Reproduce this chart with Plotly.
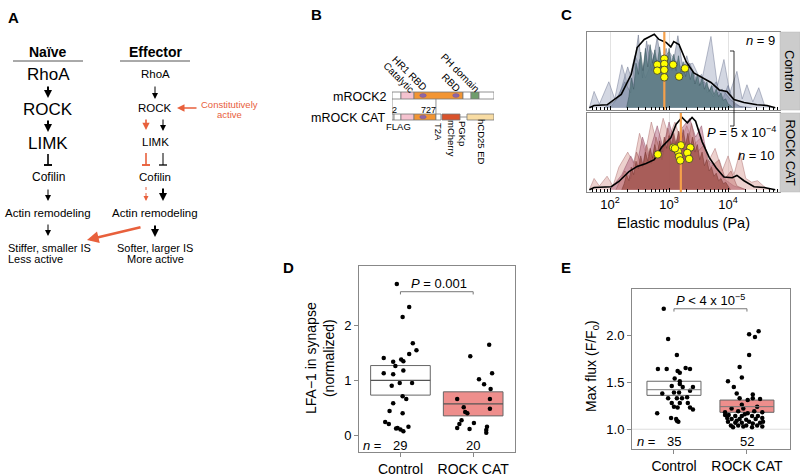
import plotly.graph_objects as go

FONT = "Liberation Sans, Arial, Helvetica, sans-serif"
RED = "#e8603c"

# ---------------- panel B: construct schematic (construct units 0-100) ----------------
rock2_start = [0, 8.8, 21.6, 69.6, 77.5, 85.3]
rock2_end = [8.8, 21.6, 69.6, 77.5, 85.3, 100]
rock2_kind = ["blank", "cat", "hr1", "blank", "ph", "blank"]
rock2_ovals = [30.4, 62.7]

cat_start = [0, 2, 8.8, 21.6, 43.1, 49.0, 73.5]
cat_end = [2, 8.8, 21.6, 43.1, 48.0, 66.7, 100]
cat_kind = ["blank", "blank", "cat", "hr1", "blank", "mcherry", "cd25"]
cat_ovals = [30.4]
cat_cut = [0, 43.1]

# ---------------- panel C: elastic modulus densities (x = log10 Pa) ----------------
ctrl_mean_x = [1.65, 1.73, 1.95, 2.19, 2.36, 2.46, 2.58, 2.69, 2.75, 2.83, 2.95, 3.03, 3.08, 3.17,
               3.29, 3.42, 3.54, 3.71, 3.85, 3.98, 4.10, 4.27, 4.49, 4.66, 4.80]
ctrl_mean_y = [0.0, 0.03, 0.04, 0.18, 0.45, 0.81, 0.92, 0.96, 0.99, 0.92, 0.88, 0.82, 0.89, 0.85,
               0.62, 0.47, 0.42, 0.34, 0.24, 0.22, 0.11, 0.07, 0.04, 0.03, 0.0]

ctrl_light_x = [1.65, 1.73, 1.82, 1.98, 2.08, 2.2, 2.3, 2.42, 2.55, 2.65, 2.8, 3.0, 3.2, 3.4, 3.55,
                3.71, 3.82, 3.93, 4.03, 4.15, 4.24, 4.32, 4.42, 4.52, 4.62, 4.75]
ctrl_light_y = [0, 0.22, 0.05, 0.35, 0.12, 0.58, 0.3, 0.7, 0.5, 0.85, 0.6, 0.75, 0.55, 0.6, 0.35,
                0.96, 0.3, 0.65, 0.2, 0.49, 0.12, 0.31, 0.08, 0.27, 0.03, 0]
ctrl_mid_x = [2.0, 2.15, 2.3, 2.4, 2.5, 2.6, 2.75, 2.9, 3.05, 3.2, 3.3, 3.42, 3.55, 3.65, 3.8, 3.9,
              4.0, 4.1, 4.25]
ctrl_mid_y = [0, 0.15, 0.55, 0.3, 0.65, 0.4, 0.7, 0.45, 0.6, 0.4, 0.7, 0.35, 0.45, 0.2, 0.35, 0.1,
              0.3, 0.05, 0]
ctrl_tall_x = [1.9, 2.1, 2.25, 2.35, 2.48, 2.55, 2.62, 2.7, 2.8, 2.88, 2.95, 3.05, 3.15, 3.25, 3.35,
               3.5, 3.6, 3.75, 3.9, 4.05, 4.2, 4.4]
ctrl_tall_y = [0, 0.1, 0.35, 0.2, 0.98, 0.4, 0.9, 0.5, 0.95, 0.55, 0.8, 0.5, 0.97, 0.45, 0.6, 0.3,
               0.35, 0.15, 0.25, 0.1, 0.02, 0]
ctrl_mass_x = [2.28, 2.32, 2.36, 2.40, 2.44, 2.48, 2.52, 2.56, 2.60, 2.64, 2.68, 2.72, 2.76, 2.80,
               2.84, 2.88, 2.92, 2.96, 3.00, 3.04, 3.08, 3.12, 3.16, 3.20, 3.24, 3.28, 3.32, 3.36,
               3.40, 3.44, 3.48, 3.52, 3.56, 3.60, 3.64, 3.68, 3.72, 3.76, 3.80, 3.84, 3.88, 3.92,
               3.96, 4.00, 4.04, 4.08]
ctrl_mass_y = [0, 0.15, 0.4, 0.25, 0.6, 0.45, 0.75, 0.5, 0.8, 0.55, 0.85, 0.6, 0.78, 0.58, 0.82,
               0.6, 0.75, 0.55, 0.8, 0.6, 0.72, 0.5, 0.7, 0.48, 0.62, 0.42, 0.55, 0.38, 0.5, 0.32,
               0.45, 0.3, 0.4, 0.25, 0.35, 0.22, 0.3, 0.18, 0.25, 0.15, 0.2, 0.1, 0.12, 0.05, 0.03, 0]

cat_mean_x = [1.65, 1.73, 2.02, 2.15, 2.32, 2.46, 2.61, 2.75, 2.88, 3.03, 3.12, 3.22, 3.31, 3.39,
              3.45, 3.56, 3.68, 3.80, 3.93, 4.07, 4.15, 4.27, 4.44, 4.61, 4.80]
cat_mean_y = [0, 0.03, 0.04, 0.11, 0.24, 0.31, 0.35, 0.40, 0.57, 0.69, 0.87, 0.96, 0.89, 0.96,
              0.91, 0.64, 0.43, 0.29, 0.17, 0.16, 0.19, 0.12, 0.04, 0.03, 0]

cat_light_x = [1.65, 1.73, 1.82, 1.95, 2.05, 2.15, 2.3, 2.4, 2.5, 2.6, 2.7, 2.8, 2.9, 3.0, 3.1,
               3.2, 3.3, 3.42, 3.55, 3.65, 3.78, 3.9, 4.0, 4.1, 4.2, 4.3, 4.4, 4.5, 4.6, 4.7]
cat_light_y = [0, 0.15, 0.05, 0.18, 0.05, 0.3, 0.5, 0.35, 0.75, 0.5, 0.9, 0.6, 0.95, 0.7, 0.9,
               0.65, 0.85, 0.6, 0.7, 0.35, 0.55, 0.25, 0.45, 0.2, 0.5, 0.15, 0.1, 0.12, 0.05, 0]
cat_mauve_x = [2.0, 2.2, 2.35, 2.45, 2.55, 2.65, 2.8, 2.9, 3.0, 3.1, 3.2, 3.35, 3.45, 3.55, 3.65,
               3.8, 3.92, 4.1, 4.3]
cat_mauve_y = [0, 0.2, 0.45, 0.3, 0.7, 0.45, 0.85, 0.55, 0.9, 0.6, 0.8, 0.95, 0.7, 0.85, 0.4, 0.3,
               0.15, 0.05, 0]
cat_mid_x = [2.1, 2.25, 2.35, 2.45, 2.55, 2.62, 2.7, 2.78, 2.88, 2.98, 3.08, 3.18, 3.28, 3.38,
             3.48, 3.6, 3.7, 3.85, 3.95, 4.05, 4.15, 4.3]
cat_mid_y = [0, 0.25, 0.15, 0.5, 0.3, 0.6, 0.35, 0.7, 0.4, 0.82, 0.5, 0.7, 0.45, 0.88, 0.5, 0.6,
             0.3, 0.4, 0.15, 0.25, 0.05, 0]
cat_mass_x = [2.20, 2.24, 2.28, 2.32, 2.36, 2.40, 2.44, 2.48, 2.52, 2.56, 2.60, 2.64, 2.68, 2.72,
              2.76, 2.80, 2.84, 2.88, 2.92, 2.96, 3.00, 3.04, 3.08, 3.12, 3.16, 3.20, 3.24, 3.28,
              3.32, 3.36, 3.40, 3.44, 3.48, 3.52, 3.56, 3.60, 3.64, 3.68, 3.72, 3.76, 3.80, 3.84,
              3.88, 3.92, 3.96, 4.00, 4.04]
cat_mass_y = [0, 0.08, 0.2, 0.12, 0.3, 0.2, 0.38, 0.28, 0.45, 0.32, 0.5, 0.38, 0.55, 0.42, 0.6,
              0.45, 0.65, 0.5, 0.7, 0.55, 0.72, 0.58, 0.75, 0.6, 0.78, 0.62, 0.8, 0.6, 0.75, 0.55,
              0.7, 0.5, 0.6, 0.4, 0.5, 0.32, 0.4, 0.25, 0.3, 0.18, 0.22, 0.12, 0.15, 0.08, 0.1,
              0.04, 0]

ctrl_cell_x = [2.80, 2.92, 2.92, 3.07, 2.80, 2.92, 3.27, 2.92, 3.17]
ctrl_cell_y = [0.58, 0.66, 0.59, 0.58, 0.50, 0.51, 0.53, 0.41, 0.42]
cat_cell_x = [2.81, 3.07, 3.20, 3.15, 3.36, 3.31, 3.17, 3.34, 3.19, 3.10]
cat_cell_y = [0.47, 0.56, 0.59, 0.51, 0.56, 0.49, 0.44, 0.41, 0.39, 0.55]
median_log = [2.92, 3.20]

# ---------------- panel D: LFA-1 in synapse ----------------
d_ctrl_x = [-0.05, 0.12, 0.03, 0.17, 0.22, 0.12, -0.23, -0.10, 0.01, 0.04, -0.07, -0.23, -0.10,
            0.04, -0.01, -0.12, 0.16, 0.03, 0.08, -0.10, -0.15, 0.03, -0.21, -0.16, 0.11, -0.04,
            0.00, 0.04, -0.06]
d_ctrl_y = [2.76, 2.34, 2.16, 1.68, 1.55, 1.48, 1.41, 1.34, 1.38, 1.35, 1.26, 1.13, 1.11, 1.18,
            0.95, 0.90, 0.95, 0.71, 0.66, 0.58, 0.44, 0.40, 0.24, 0.20, 0.15, 0.13, 0.10, 0.07, 0.12]
d_cat_x = [1.22, 0.96, 1.26, 1.08, 1.15, 1.24, 0.78, 1.23, 0.87, 0.89, 0.92, 1.23, 0.84, 1.01,
           0.81, 0.78, 0.95, 1.19, 1.18, 1.18]
d_cat_y = [1.65, 1.44, 1.13, 1.02, 0.93, 0.84, 0.66, 0.66, 0.51, 0.42, 0.40, 0.48, 0.27, 0.22,
           0.20, 0.13, 0.11, 0.15, 0.09, 0.04]
d_q1 = [0.73, 0.35]
d_med = [1.00, 0.57]
d_q3 = [1.27, 0.79]
d_n = [29, 20]

# ---------------- panel E: max flux ----------------
e_ctrl_x = [-0.14, -0.08, 0.04, -0.22, -0.10, 0.05, 0.08, 0.16, 0.22, 0.01, 0.08, 0.08, -0.03,
            0.26, 0.22, -0.16, 0.00, 0.07, -0.08, 0.04, 0.11, 0.18, -0.03, 0.08, 0.19, 0.00, 0.05,
            0.22, 0.26, -0.23, -0.04, 0.03, 0.06, 0.04, 0.12]
e_ctrl_y = [2.28, 1.96, 1.79, 1.64, 1.64, 1.62, 1.60, 1.65, 1.64, 1.54, 1.51, 1.48, 1.46, 1.45,
            1.41, 1.38, 1.39, 1.39, 1.33, 1.33, 1.33, 1.34, 1.28, 1.28, 1.28, 1.24, 1.23, 1.23,
            1.21, 1.17, 1.12, 1.11, 1.08, 1.09, 1.45]
e_cat_x = [1.03, 1.11, 1.16, 1.03, 0.90, 0.93, 0.74, 0.82, 0.86,
           1.08, 0.90, 1.01, 1.08, 1.18, 0.93, 0.79, 0.95, 1.14, 0.70, 0.88, 1.01, 1.21, 0.75,
           0.84, 0.93, 1.07, 1.15, 0.73, 0.79, 0.90, 0.99, 1.12, 1.21, 0.74, 0.84, 0.93, 1.03,
           1.08, 1.18, 0.78, 0.88, 0.99, 1.14, 1.21, 0.81, 0.95, 1.07, 0.70, 0.97, 1.10, 1.22,
           0.86]
e_cat_y = [2.01, 1.98, 2.04, 1.79, 1.66, 1.55, 1.51, 1.45, 1.38,
           1.37, 1.33, 1.31, 1.33, 1.32, 1.26, 1.22, 1.22, 1.24, 1.18, 1.19, 1.17, 1.18, 1.15,
           1.14, 1.14, 1.14, 1.14, 1.12, 1.11, 1.11, 1.10, 1.11, 1.12, 1.08, 1.07, 1.07, 1.08,
           1.06, 1.07, 1.04, 1.04, 1.04, 1.04, 1.03, 1.02, 1.03, 1.02, 1.15, 1.16, 1.19, 1.08,
           1.09]
e_q1 = [1.36, 1.18]
e_med = [1.42, 1.24]
e_q3 = [1.51, 1.31]
e_n = [35, 52]

groups = ["Control", "ROCK CAT"]

fig = go.Figure()
shapes = []
notes = []


def text(x, y, s, size=11, color="black", xanchor="center", angle=0, yanchor="middle"):
    notes.append(dict(x=x, y=y, xref="x", yref="y", text=s, showarrow=False, xanchor=xanchor,
                      yanchor=yanchor, textangle=angle,
                      font=dict(family=FONT, size=size, color=color)))


def arrow(x0, y0, x1, y1, color="black", width=1.0, size=1.0):
    notes.append(dict(x=x1, y=y1, ax=x0, ay=y0, xref="x", yref="y", axref="x", ayref="y",
                      text="", showarrow=True, arrowhead=2, arrowwidth=width, arrowsize=size,
                      arrowcolor=color, standoff=0))


def line(x0, y0, x1, y1, color="black", width=1.0, dash="solid", xref="x", yref="y"):
    shapes.append(dict(type="line", x0=x0, y0=y0, x1=x1, y1=y1, xref=xref, yref=yref,
                       line=dict(color=color, width=width, dash=dash)))


def inhibit(x, y0, y1, color="black", width=1.0):
    line(x, y0, x, y1, color, width)
    line(x - 4, y1, x + 4, y1, color, width + 0.3)


# canvas subplot (pixel coordinates) and schematic subplot
fig.add_trace(go.Scatter(x=[], y=[], xaxis="x", yaxis="y", showlegend=False))
fig.add_trace(go.Scatter(x=[], y=[], xaxis="x2", yaxis="y2", showlegend=False))

# ---------- panel letters ----------
for lab, lx, ly in [("A", 13, 17), ("B", 316, 14), ("C", 566, 14), ("D", 288, 267), ("E", 566, 267)]:
    text(lx, ly, f"<b>{lab}</b>", size=15)

# ---------- panel A ----------
text(48, 52, "<b>Naïve</b>", size=14)
text(155, 52, "<b>Effector</b>", size=14)
line(13, 61, 83, 61, "#555", 1)
line(120, 61, 190, 61, "#555", 1)

text(48, 74, "RhoA", size=17)
arrow(48, 85, 48, 98, width=2, size=0.8)
text(48, 109, "ROCK", size=17)
arrow(48, 119, 48, 132, width=2, size=0.8)
text(48, 143, "LIMK", size=17)
inhibit(48, 154, 165, width=1.6)
text(48, 177, "Cofilin", size=12)
arrow(48, 188, 48, 201, width=1, size=1.2)
text(48, 213, "Actin remodeling", size=11.5)
arrow(48, 223, 48, 236, width=1, size=1.2)
text(6, 248, "Stiffer, smaller IS", size=11, xanchor="left")
text(6, 259, "Less active", size=11, xanchor="left")

text(155, 74, "RhoA", size=11.5)
arrow(155, 85, 155, 99, width=1, size=1.2)
text(155, 108, "ROCK", size=11.5)
arrow(198, 108, 177, 108, color=RED, width=1.5, size=1.0)
text(229, 104, "Constitutively", size=9.5, color=RED)
text(229, 114, "active", size=9.5, color=RED)
arrow(146, 118, 146, 130, color=RED, width=1.6, size=0.9)
arrow(163, 118, 163, 131, width=1, size=1.2)
text(155, 142, "LIMK", size=11.5)
inhibit(146, 153, 165, RED, 1.6)
inhibit(163, 153, 165, "black", 1.0)
text(155, 177, "Cofilin", size=11.5)
line(146, 187, 146, 197, RED, 1, "dot")
arrow(146, 196, 146, 201, color=RED, width=1, size=1.0)
arrow(163, 187, 163, 201, width=2, size=0.8)
text(155, 213, "Actin remodeling", size=11.5)
arrow(155, 224, 155, 237, width=2, size=0.8)
arrow(142, 227, 87, 240, color=RED, width=2.6, size=0.9)
text(155, 248, "Softer, larger IS", size=11)
text(155, 259, "More active", size=11)

# ---------- panel B ----------
part_color = {"blank": "white", "cat": "#f5c2cf", "hr1": "#f29533", "ph": "#6f9d6c",
              "mcherry": "#d9522b", "cd25": "#f8dca3"}
for s, e, k in zip(rock2_start, rock2_end, rock2_kind):
    shapes.append(dict(type="rect", xref="x2", yref="y2", x0=s, x1=e, y0=92, y1=99,
                       fillcolor=part_color[k], line=dict(color="#777", width=0.8)))
for s, e, k in zip(cat_start, cat_end, cat_kind):
    shapes.append(dict(type="rect", xref="x2", yref="y2", x0=s, x1=e, y0=114, y1=120,
                       fillcolor=part_color[k], line=dict(color="#777", width=0.8)))
line(cat_end[5], 117, cat_start[6], 117, "#777", 0.8, xref="x2", yref="y2")
for c in rock2_ovals:
    shapes.append(dict(type="circle", xref="x2", yref="y2", x0=c - 3.2, x1=c + 3.2, y0=93.6,
                       y1=97.4, fillcolor="#8e66a6", line=dict(color="#7a5a95", width=0.5)))
for c in cat_ovals:
    shapes.append(dict(type="circle", xref="x2", yref="y2", x0=c - 3.2, x1=c + 3.2, y0=115.2,
                       y1=118.8, fillcolor="#8e66a6", line=dict(color="#7a5a95", width=0.5)))
for c in cat_cut:
    line(c, 99, c, 114, "#777", 0.8, xref="x2", yref="y2")

text(389, 97, "mROCK2", size=12.5, xanchor="right")
text(387, 118, "mROCK CAT", size=12.5, xanchor="right")
text(394, 110, "2", size=9)
text(428, 110, "727", size=9)
text(398, 126, "FLAG", size=9.5)
text(439, 132, "T2A", size=9.5, angle=90)
text(452, 138, "mCherry", size=9.5, angle=90)
text(463, 133, "PGKp", size=9.5, angle=90)
text(482, 142, "hCD25 ED", size=9.5, angle=90)
text(399, 77, "Catalytic", size=10, angle=45)
text(410, 73, "HR1 RBD", size=10, angle=45)
text(451, 82, "RBD", size=10, angle=45)
text(460, 72, "PH domain", size=10, angle=45)

# ---------- panel C ----------
def dens(xs, ys, fill, edge, xa, ya):
    fig.add_trace(go.Scatter(x=[10 ** v for v in xs], y=ys, mode="lines", fill="tozeroy",
                             fillcolor=fill, line=dict(color=edge, width=0.6),
                             xaxis=xa, yaxis=ya, showlegend=False, hoverinfo="skip"))


dens(ctrl_light_x, ctrl_light_y, "rgba(175,182,202,0.55)", "rgba(110,118,145,0.8)", "x3", "y3")
dens(ctrl_mid_x, ctrl_mid_y, "rgba(140,150,176,0.5)", "rgba(100,110,135,0.8)", "x3", "y3")
dens(ctrl_tall_x, ctrl_tall_y, "rgba(125,140,165,0.5)", "rgba(90,100,125,0.8)", "x3", "y3")
dens(ctrl_mass_x, ctrl_mass_y, "rgba(82,116,122,0.75)", "rgba(60,88,95,0.9)", "x3", "y3")
dens(cat_light_x, cat_light_y, "rgba(222,172,165,0.55)", "rgba(170,110,110,0.8)", "x4", "y4")
dens(cat_mauve_x, cat_mauve_y, "rgba(178,100,125,0.5)", "rgba(140,70,95,0.8)", "x4", "y4")
dens(cat_mid_x, cat_mid_y, "rgba(200,130,125,0.55)", "rgba(150,85,85,0.8)", "x4", "y4")
dens(cat_mass_x, cat_mass_y, "rgba(152,72,66,0.7)", "rgba(120,55,50,0.9)", "x4", "y4")

for mx, my, xa, ya in [(ctrl_mean_x, ctrl_mean_y, "x3", "y3"), (cat_mean_x, cat_mean_y, "x4", "y4")]:
    fig.add_trace(go.Scatter(x=[10 ** v for v in mx], y=my, mode="lines",
                             line=dict(color="black", width=1.6), xaxis=xa, yaxis=ya,
                             showlegend=False, hoverinfo="skip"))
for m, xa, ya in zip(median_log, ["x3", "x4"], ["y3", "y4"]):
    fig.add_trace(go.Scatter(x=[10 ** m, 10 ** m], y=[-0.03, 1.02], mode="lines",
                             line=dict(color="#f5a04a", width=2.2), xaxis=xa, yaxis=ya,
                             showlegend=False, hoverinfo="skip"))
for cx, cy, xa, ya in [(ctrl_cell_x, ctrl_cell_y, "x3", "y3"), (cat_cell_x, cat_cell_y, "x4", "y4")]:
    fig.add_trace(go.Scatter(x=[10 ** v for v in cx], y=cy, mode="markers",
                             marker=dict(color="#ffff00", size=7.5, line=dict(color="#333", width=0.8)),
                             xaxis=xa, yaxis=ya, showlegend=False, hoverinfo="skip"))

for y0, y1, lab in [(32, 110, "Control"), (113, 192, "ROCK CAT")]:
    shapes.append(dict(type="rect", xref="x", yref="y", x0=780, x1=800, y0=y0, y1=y1,
                       fillcolor="#cccccc", line=dict(color="#bbbbbb", width=0.5)))
    text(790, (y0 + y1) / 2, lab, size=13, angle=90)

line(730, 51, 734, 51, "black", 0.8)
line(734, 51, 734, 126, "black", 0.8)
line(730, 126, 734, 126, "black", 0.8)
text(777, 40, "<i>n</i> = 9", size=13, xanchor="right")
text(778, 132, "<i>P</i> = 5 x 10<sup>−4</sup>", size=13, xanchor="right")
text(777, 155, "<i>n</i> = 10", size=13, xanchor="right")
text(683, 223, "Elastic modulus (Pa)", size=14.5)

# ---------- panels D and E ----------
for xs, ys, xa, ya in [(d_ctrl_x + d_cat_x, d_ctrl_y + d_cat_y, "x5", "y5"),
                       (e_ctrl_x + e_cat_x, e_ctrl_y + e_cat_y, "x6", "y6")]:
    fig.add_trace(go.Scatter(x=xs, y=ys, mode="markers", marker=dict(color="black", size=4.5),
                             xaxis=xa, yaxis=ya, showlegend=False, hoverinfo="skip"))

box_fill = ["white", "#ee8e8c"]
for i in range(2):
    shapes.append(dict(type="rect", xref="x5", yref="y5", x0=i - 0.41, x1=i + 0.41, y0=d_q1[i],
                       y1=d_q3[i], fillcolor=box_fill[i], line=dict(color="#666", width=1),
                       layer="below"))
    line(i - 0.41, d_med[i], i + 0.41, d_med[i], "#555", 1.2, xref="x5", yref="y5")
    shapes.append(dict(type="rect", xref="x6", yref="y6", x0=i - 0.37, x1=i + 0.37, y0=e_q1[i],
                       y1=e_q3[i], fillcolor=box_fill[i], line=dict(color="#666", width=1),
                       layer="below"))
    line(i - 0.37, e_med[i], i + 0.37, e_med[i], "#777", 1, xref="x6", yref="y6")

shapes.append(dict(type="line", xref="x6", yref="y6", x0=-0.575, x1=1.59, y0=1.0, y1=1.0,
                   line=dict(color="#dddddd", width=1), layer="below"))

for xa, ya, yb, tick in [("x5", "y5", 2.62, 0.05), ("x6", "y6", 2.28, 0.03)]:
    line(0, yb - tick, 0, yb, "#777", 1, xref=xa, yref=ya)
    line(0, yb, 1, yb, "#777", 1, xref=xa, yref=ya)
    line(1, yb - tick, 1, yb, "#777", 1, xref=xa, yref=ya)
text(439, 283, "<i>P</i> = 0.001", size=13)
text(710, 300, "<i>P</i> &lt; 4 x 10<sup>−5</sup>", size=13)

text(372, 445, "<i>n</i> =", size=13)
text(400, 445, str(d_n[0]), size=13)
text(473, 445, str(d_n[1]), size=13)
text(646, 441, "<i>n</i> =", size=13)
text(674, 441, str(e_n[0]), size=13)
text(747, 441, str(e_n[1]), size=13)
text(320, 358, "LFA−1 in synapse<br>(normalized)", size=14, angle=-90)
text(592, 366, "Max flux (F/F<sub>0</sub>)", size=14, angle=-90)


def px(v):
    return v / 800


def py(v):
    return 1 - v / 476


minor_vals = [m * 10 ** d for d in range(1, 5) for m in range(2, 10)]
logx = dict(type="log", range=[1.61, 4.88], tickvals=[100, 1000, 10000],
            ticktext=["10<sup>2</sup>", "10<sup>3</sup>", "10<sup>4</sup>"],
            showgrid=True, gridcolor="#e2e2e2", ticks="inside", ticklen=4, tickcolor="black",
            minor=dict(tickvals=minor_vals, ticks="inside", ticklen=3, tickcolor="black",
                       showgrid=False),
            showline=True, mirror=True, linecolor="#888", zeroline=False, fixedrange=True,
            tickfont=dict(family=FONT, size=13, color="black"))
dens_y = dict(range=[-0.03, 1.02], showticklabels=False, showgrid=False, zeroline=False,
              showline=True, mirror=True, linecolor="#888", fixedrange=True)
cat_x = dict(tickvals=[0, 1], ticktext=groups, ticks="outside", ticklen=4, tickcolor="#888",
             showline=True, mirror=True, linecolor="#888", showgrid=False, zeroline=False,
             fixedrange=True, tickfont=dict(family=FONT, size=14, color="black"))
num_y = dict(ticks="outside", ticklen=4, tickcolor="#888", showline=True, mirror=True,
             linecolor="#888", showgrid=False, zeroline=False, fixedrange=True,
             tickfont=dict(family=FONT, size=13, color="black"))

fig.update_layout(
    width=800,
    height=476,
    autosize=False,
    margin=dict(l=0, r=0, t=0, b=0),
    paper_bgcolor="white",
    plot_bgcolor="rgba(0,0,0,0)",
    font=dict(family=FONT, color="black"),
    showlegend=False,
    xaxis=dict(domain=[0, 1], range=[0, 800], visible=False, fixedrange=True, anchor="y"),
    yaxis=dict(domain=[0, 1], range=[476, 0], visible=False, fixedrange=True, anchor="x"),
    xaxis2=dict(domain=[px(392), px(494)], range=[0, 100], visible=False, fixedrange=True,
                anchor="y2"),
    yaxis2=dict(domain=[0, 1], range=[476, 0], visible=False, fixedrange=True, anchor="x2"),
    xaxis3=dict(logx, domain=[px(587), px(780)], anchor="y3", showticklabels=False),
    yaxis3=dict(dens_y, domain=[py(110), py(32)], anchor="x3"),
    xaxis4=dict(logx, domain=[px(587), px(780)], anchor="y4"),
    yaxis4=dict(dens_y, domain=[py(192), py(113)], anchor="x4"),
    xaxis5=dict(cat_x, domain=[px(359), px(515)], range=[-0.57, 1.575], anchor="y5"),
    yaxis5=dict(num_y, domain=[py(452), py(266)], range=[-0.31, 3.09], tickvals=[0, 1, 2],
                anchor="x5"),
    xaxis6=dict(cat_x, domain=[px(632), px(790)], range=[-0.575, 1.59], anchor="y6"),
    yaxis6=dict(num_y, domain=[py(449), py(289)], range=[0.79, 2.49], tickvals=[1.0, 1.5, 2.0],
                ticktext=["1.0", "1.5", "2.0"], anchor="x6"),
    shapes=shapes,
    annotations=notes,
)

# the page body has a default 8px margin; remove it so the figure fills the window
fig.write_html("out.html", config={"displayModeBar": False},
               post_script="document.body.style.margin = '0';")
